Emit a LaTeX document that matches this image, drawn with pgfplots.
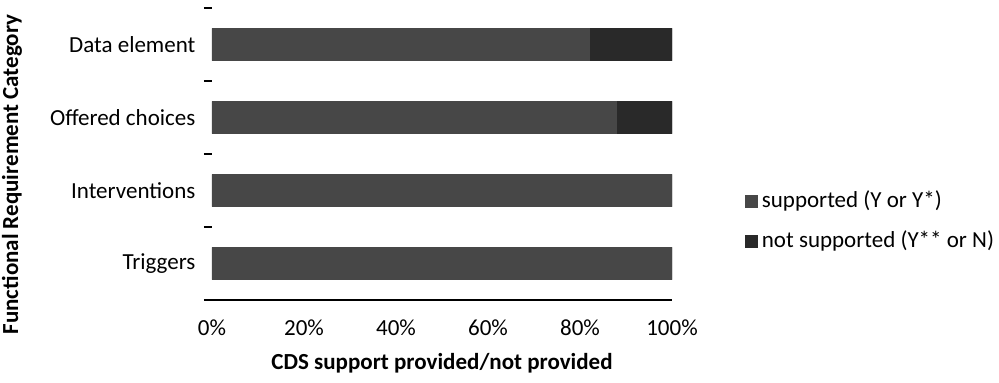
\documentclass[border=0pt]{standalone}
\usepackage{fontspec}
\setmainfont{Carlito}
\usepackage{pgfplots}
\pgfplotsset{compat=1.18}
\definecolor{supp}{gray}{0.28}
\definecolor{nsupp}{gray}{0.16}
\begin{document}
\fontsize{11.5}{13}\selectfont
\begin{tikzpicture}
\useasboundingbox (-106pt,-41pt) rectangle (393.5pt,150pt);
\begin{axis}[
  /pgf/number format/assume math mode=true,
  xbar stacked,
  scale only axis,
  width=230pt, height=146pt,
  xmin=0, xmax=100,
  ymin=-0.5, ymax=3.5,
  bar width=0.44,
  xtick={0,20,40,60,80,100},
  xticklabel={\pgfmathprintnumber{\tick}\%},
  xticklabel style={yshift=-1.5pt},
  every major x tick/.style={draw=none},
  ytick={0,1,2,3},
  yticklabels={Triggers,Interventions,Offered choices,Data element},
  every major y tick/.style={draw=none},
  yticklabel style={xshift=0pt},
  minor ytick={-0.5,0.5,1.5,2.5,3.5},
  every minor y tick/.style={draw=black, thick},
  minor tick length=4pt,
  tick align=outside,
  axis x line*=bottom,
  axis y line*=left,
  y axis line style={draw=none},
  x axis line style={black, thick},
  xlabel={\bfseries CDS support provided/not provided},
  xlabel style={yshift=-1pt},
  ylabel={\bfseries Functional Requirement Category},
  ylabel style={at={(axis description cs:-0.435,0.43)}, anchor=center, rotate=0},
  legend style={at={(1.145,0.27)}, anchor=west, draw=none, fill=none,
    row sep=6pt, font=\fontsize{11.5}{13}\selectfont},
  legend cell align=left,
  legend image code/.code={\fill[#1] (0pt,-3pt) rectangle (6pt,3pt);},
]
\addplot[fill=supp, draw=supp] coordinates {(100,0) (100,1) (88,2) (82,3)};
\addlegendentry{supported (Y or Y*)}
\addplot[fill=nsupp, draw=nsupp] coordinates {(0,0) (0,1) (12,2) (18,3)};
\addlegendentry{not supported (Y** or N)}
\end{axis}
\end{tikzpicture}
\end{document}
